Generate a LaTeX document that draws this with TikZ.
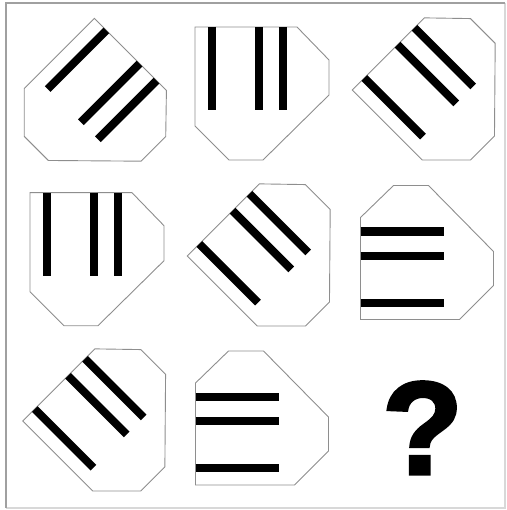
\documentclass[tikz,border=0pt]{standalone}
\usepackage{fontspec}
\setmainfont{Liberation Sans}
\newfontfamily\heavyq[FakeBold=2.5]{Liberation Sans Bold}
\definecolor{edgegray}{HTML}{8E8E8E}
\definecolor{framegray}{HTML}{A0A0A0}
\definecolor{paleframe}{HTML}{D8D8D8}
\tikzset{
  outline/.style={draw=edgegray,line width=0.9pt,fill=white,line join=miter},
  stripe/.style={line width=8pt,black},
  % chamfered square with three bars, origin at the square's centre
  cutsq/.pic={
    \draw[outline] (-67,-67) -- (35,-67) -- (67,-34) -- (67,1) -- (1,66) -- (-33,66) -- (-67,32) -- cycle;
    \foreach \bx in {-50,-3,21} \draw[stripe] (\bx,-67) -- (\bx,16);
  }
}
\begin{document}
\begin{tikzpicture}[x=1pt,y=-1pt]
\useasboundingbox (0,0) rectangle (506,510);
\draw[paleframe,line width=1.2pt] (505,3) -- (505,508) -- (6,508);
\draw[framegray,line width=1.4pt] (6,508) -- (6,3) -- (505,3);

\coordinate (c11) at (94.3,113.1);
\coordinate (c12) at (262,94);
\coordinate (c13) at (447.1,90);
\coordinate (c21) at (97,259.7);
\coordinate (c22) at (282.1,256);
\coordinate (c23) at (427.5,252.5);
\coordinate (c31) at (117.5,421);
\coordinate (c32) at (262.5,418);

\pic[rotate=-45] (f11) at (c11) {cutsq};
\pic (f12) at (c12) {cutsq};
\pic[rotate=45] (f13) at (c13) {cutsq};
\pic (f21) at (c21) {cutsq};
\pic[rotate=45] (f22) at (c22) {cutsq};
\pic[rotate=90] (f23) at (c23) {cutsq};
\pic[rotate=45] (f31) at (c31) {cutsq};
\pic[rotate=90] (f32) at (c32) {cutsq};

\node[inner sep=0pt,anchor=base,font=\heavyq\fontsize{132}{132}\selectfont] (ask) at (422.5,474) {?};
\end{tikzpicture}
\end{document}
